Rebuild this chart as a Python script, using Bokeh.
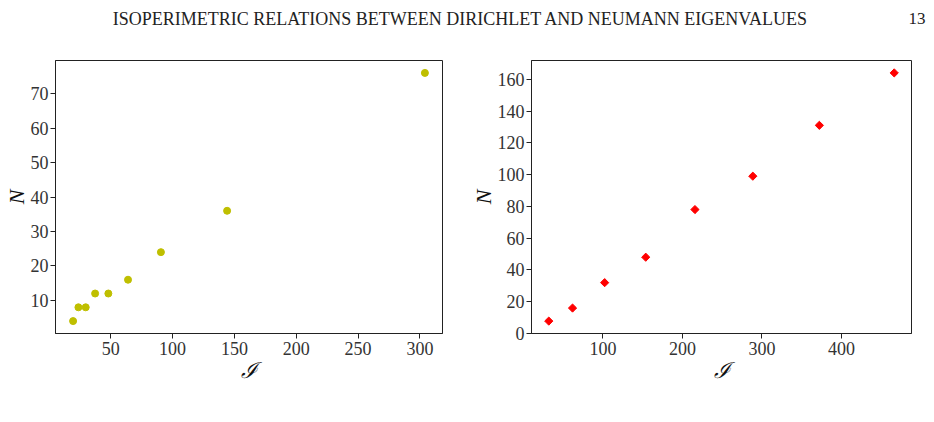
import numpy as np
from bokeh.plotting import figure
from bokeh.layouts import column, row
from bokeh.models import Range1d, FixedTicker, Label
from bokeh.embed import file_html
from bokeh.resources import INLINE

# ---- data ----
left_I = [19.6, 23.9, 29.8, 37.4, 48.1, 64.0, 90.6, 144.1, 304.0]
left_N = [4, 8, 8, 12, 12, 16, 24, 36, 76]
right_I = [31.8, 61.7, 102.1, 153.8, 215.7, 288.5, 372.2, 466.4]
right_N = [7.8, 16, 32, 48, 78, 99, 131, 164]

left_xticks = [50, 100, 150, 200, 250, 300]
left_yticks = [10, 20, 30, 40, 50, 60, 70]
right_xticks = [100, 200, 300, 400]
right_yticks = [0, 20, 40, 60, 80, 100, 120, 140, 160]

header_text = "ISOPERIMETRIC RELATIONS BETWEEN DIRICHLET AND NEUMANN EIGENVALUES"
page_number = "13"

FONT = "Liberation Serif"
TICK_SIZE = "18px"
LABEL_SIZE = "22px"


def mpl_range(vals):
    lo, hi = min(vals), max(vals)
    m = 0.05 * (hi - lo)
    return Range1d(lo - m, hi + m)


def style(p, xticks, yticks):
    p.outline_line_color = "#222222"
    p.outline_line_width = 1
    p.grid.visible = False
    for ax in (p.xaxis[0], p.yaxis[0]):
        ax.axis_line_color = "#222222"
        ax.major_tick_line_color = "#222222"
        ax.major_tick_out = 5
        ax.major_tick_in = 0
        ax.minor_tick_line_color = None
        ax.major_label_text_font = FONT
        ax.major_label_text_font_size = TICK_SIZE
        ax.major_label_text_color = "#333333"
        ax.axis_label_text_font = FONT
        ax.axis_label_text_font_size = LABEL_SIZE
        ax.axis_label_text_font_style = "italic"
        ax.axis_label_text_color = "#111111"
    p.xaxis[0].ticker = FixedTicker(ticks=xticks)
    p.yaxis[0].ticker = FixedTicker(ticks=yticks)
    p.xaxis[0].major_label_standoff = 3
    p.yaxis[0].major_label_standoff = 2
    p.xaxis[0].axis_label_standoff = 0
    p.yaxis[0].axis_label_standoff = -1
    p.xaxis[0].axis_label = "ℐ"
    p.yaxis[0].axis_label = "N"


TOP = 30
H = 392
FH = 273

p1 = figure(width=464, height=H, output_backend="svg", toolbar_location=None,
            x_range=mpl_range(left_I), y_range=mpl_range(left_N),
            min_border_left=54, min_border_right=22, min_border_top=TOP,
            min_border_bottom=H - TOP - FH, background_fill_color="white",
            border_fill_color="white")
p1.scatter(left_I, left_N, marker="circle", size=7, color="#bfbf00")
style(p1, left_xticks, left_yticks)

p2 = figure(width=470, height=H, output_backend="svg", toolbar_location=None,
            x_range=mpl_range(right_I), y_range=mpl_range(right_N),
            min_border_left=67, min_border_right=23, min_border_top=TOP,
            min_border_bottom=H - TOP - FH, background_fill_color="white",
            border_fill_color="white")
p2.scatter(right_I, right_N, marker="square", angle=np.pi / 4, size=5.8,
           color="red")
style(p2, right_xticks, right_yticks)

hdr = figure(width=934, height=30, output_backend="svg", toolbar_location=None,
             x_range=Range1d(0, 934), y_range=Range1d(0, 30),
             min_border=0, outline_line_color=None)
hdr.axis.visible = False
hdr.grid.visible = False
hdr.add_layout(Label(x=460, y=12, x_units="screen", y_units="screen",
                     text=header_text, text_font=FONT, text_font_size="18px",
                     text_align="center", text_baseline="middle",
                     text_color="#222222"))
hdr.add_layout(Label(x=925, y=12, x_units="screen", y_units="screen",
                     text=page_number, text_font=FONT, text_font_size="17px",
                     text_align="right", text_baseline="middle",
                     text_color="#222222"))

layout = column(hdr, row(p1, p2))
open("out.html", "w").write(file_html(layout, INLINE))
